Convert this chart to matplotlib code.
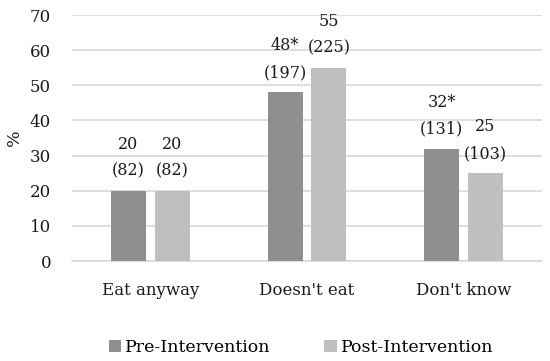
import matplotlib

matplotlib.use("Agg")

import matplotlib.pyplot as plt
import numpy as np

CATEGORIES = ["Eat anyway", "Doesn't eat", "Don't know"]
PRE = [20, 48, 32]
POST = [20, 55, 25]
PRE_LABELS = ["20\n(82)", "48*\n(197)", "32*\n(131)"]
POST_LABELS = ["20\n(82)", "55\n(225)", "25\n(103)"]
SERIES = ["Pre-Intervention", "Post-Intervention"]
COLORS = ["#8f8f8f", "#bfbfbf"]

plt.rcParams["font.family"] = ["DejaVu Serif"]

fig = plt.figure(figsize=(5.5, 3.61), dpi=100)
ax = fig.add_axes([72 / 550, 1 - 261 / 361, 470 / 550, 246 / 361])

x = np.arange(len(CATEGORIES))
width = 0.223
offset = 0.14
bars_pre = ax.bar(x - offset, PRE, width, color=COLORS[0], label=SERIES[0], zorder=3)
bars_post = ax.bar(x + offset, POST, width, color=COLORS[1], label=SERIES[1], zorder=3)

for bars, labels in ((bars_pre, PRE_LABELS), (bars_post, POST_LABELS)):
    for bar, text in zip(bars, labels):
        ax.annotate(
            text,
            (bar.get_x() + bar.get_width() / 2, bar.get_height()),
            xytext=(0, 8),
            textcoords="offset points",
            ha="center",
            va="bottom",
            fontsize=11.5,
            linespacing=1.75,
            color="#1a1a1a",
        )

ax.set_xlim(-0.5, 2.5)
ax.set_ylim(0, 70)
ax.set_yticks(range(0, 71, 10))
ax.set_xticks(x)
ax.set_xticklabels(CATEGORIES, fontsize=12.5)
ax.tick_params(axis="both", length=0, labelsize=12, colors="#1a1a1a")
ax.tick_params(axis="x", pad=15)
ax.tick_params(axis="y", pad=15)
ax.grid(axis="y", color="#d9d9d9", linewidth=1.2, zorder=0)
ax.set_axisbelow(True)
for side in ("top", "right"):
    ax.spines[side].set_visible(False)
ax.spines["left"].set_visible(False)
ax.spines["bottom"].set_color("#d9d9d9")
ax.spines["bottom"].set_linewidth(1.2)
ax.set_ylabel("%", fontsize=12.5, labelpad=5, color="#1a1a1a")

fig.legend(
    loc="lower center",
    bbox_to_anchor=(301 / 550, -0.03),
    ncol=2,
    frameon=False,
    fontsize=12.5,
    handlelength=0.7,
    handleheight=0.7,
    handletextpad=0.25,
    columnspacing=3.1,
)

fig.savefig("out.png", dpi=100)
